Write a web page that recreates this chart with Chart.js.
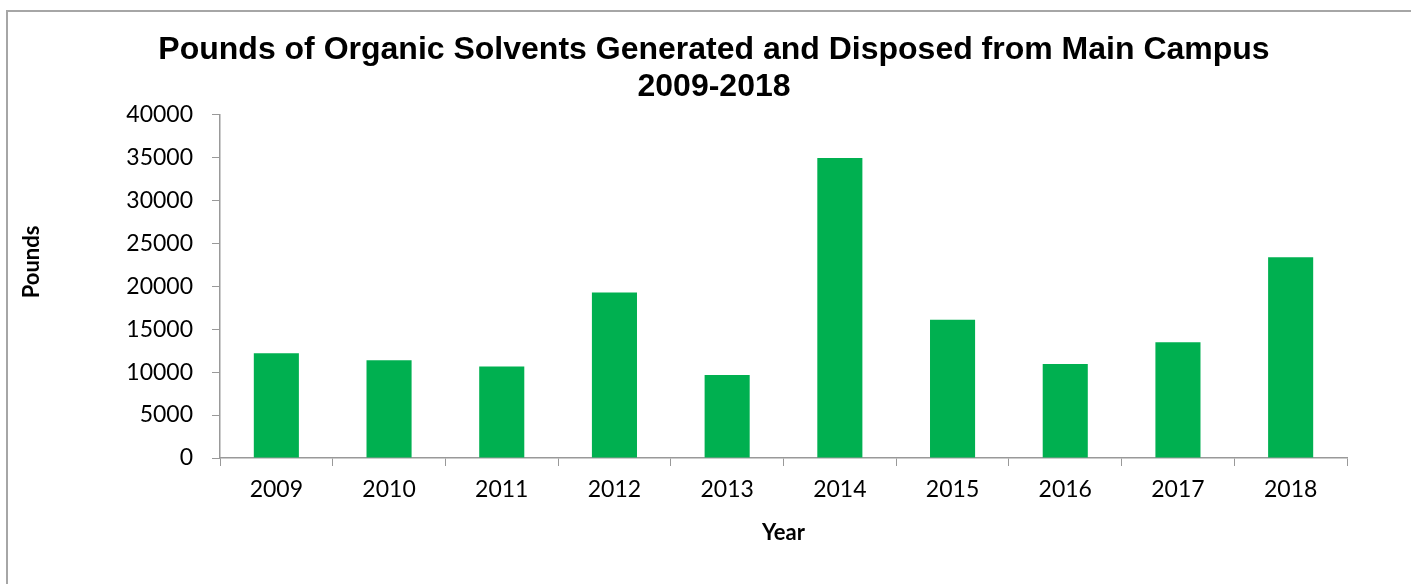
<!DOCTYPE html>
<html>
<head>
<meta charset="utf-8">
<title>Organic Solvents</title>
<script src="https://cdn.jsdelivr.net/npm/chart.js@4.4.0/dist/chart.umd.min.js"></script>
<style>
  html, body { margin: 0; padding: 0; background: #fff; overflow: hidden; }
  #frame {
    position: absolute; left: 6px; top: 10px; width: 1420px; height: 600px;
    border-left: 2px solid #a6a6a6; border-top: 2px solid #a6a6a6;
  }
  #wrap { position: absolute; left: 0; top: 0; width: 1411px; height: 584px; }
</style>
</head>
<body>
<div id="frame"></div>
<div id="wrap"><canvas id="solventChart"></canvas></div>
<script>
const years = ['2009', '2010', '2011', '2012', '2013', '2014', '2015', '2016', '2017', '2018'];
const pounds = [12210, 11390, 10650, 19280, 9680, 34950, 16090, 10960, 13490, 23380];
const yMax = 40000;
const yStep = 5000;

const titleLines = ['Pounds of Organic Solvents Generated and Disposed from Main Campus', '2009-2018'];
const yTitle = 'Pounds';
const xTitle = 'Year';

const tickFont = { family: 'Lato', size: 23 };
const axisGray = '#999999';

// y title sits a bit above the middle of the axis, so draw it ourselves
const yTitlePlugin = {
  id: 'yTitle',
  afterDraw(chart) {
    const ctx = chart.ctx;
    ctx.save();
    ctx.translate(32, 262);
    ctx.rotate(-Math.PI / 2);
    ctx.font = 'bold 22px Lato';
    ctx.fillStyle = '#000';
    ctx.textAlign = 'center';
    ctx.textBaseline = 'middle';
    ctx.fillText(yTitle, 0, 0);
    ctx.restore();
  }
};

const ctx = document.getElementById('solventChart').getContext('2d');
new Chart(ctx, {
  type: 'bar',
  data: {
    labels: years,
    datasets: [{
      label: 'Pounds',
      data: pounds,
      backgroundColor: '#00B050',
      borderWidth: 0,
      barPercentage: 0.4,
      categoryPercentage: 1
    }]
  },
  options: {
    responsive: true,
    maintainAspectRatio: false,
    animation: false,
    layout: { padding: { left: 17, right: 0, top: 0, bottom: 0 } },
    plugins: {
      legend: { display: false },
      tooltip: { enabled: false },
      title: {
        display: true,
        text: titleLines,
        color: '#000',
        font: { family: 'Liberation Sans', size: 32, weight: 'bold', lineHeight: 1.15 },
        padding: { top: 32, bottom: 9 }
      }
    },
    scales: {
      x: {
        grid: { drawOnChartArea: false, drawTicks: true, tickLength: 8, color: axisGray, offset: true },
        border: { color: axisGray, width: 1.5 },
        ticks: { color: '#000', font: tickFont, padding: 10, maxRotation: 0 },
        title: {
          display: true,
          text: xTitle,
          color: '#000',
          font: { family: 'Lato', size: 22, weight: 'bold' },
          padding: { top: 0, bottom: 38 }
        },
        afterFit(scale) { scale.height = 126; }
      },
      y: {
        min: 0,
        max: yMax,
        grid: { drawOnChartArea: false, drawTicks: true, tickLength: 8, color: axisGray },
        border: { color: axisGray, width: 1.5 },
        ticks: {
          stepSize: yStep,
          color: '#000',
          font: tickFont,
          padding: 19,
          callback: v => String(v)
        },
        afterFit(scale) { scale.width = 203; }
      },
      spacer: {
        position: 'right',
        display: true,
        grid: { display: false },
        border: { display: false },
        ticks: { display: false },
        afterFit(scale) { scale.width = 64; }
      }
    }
  },
  plugins: [yTitlePlugin]
});
</script>
</body>
</html>
